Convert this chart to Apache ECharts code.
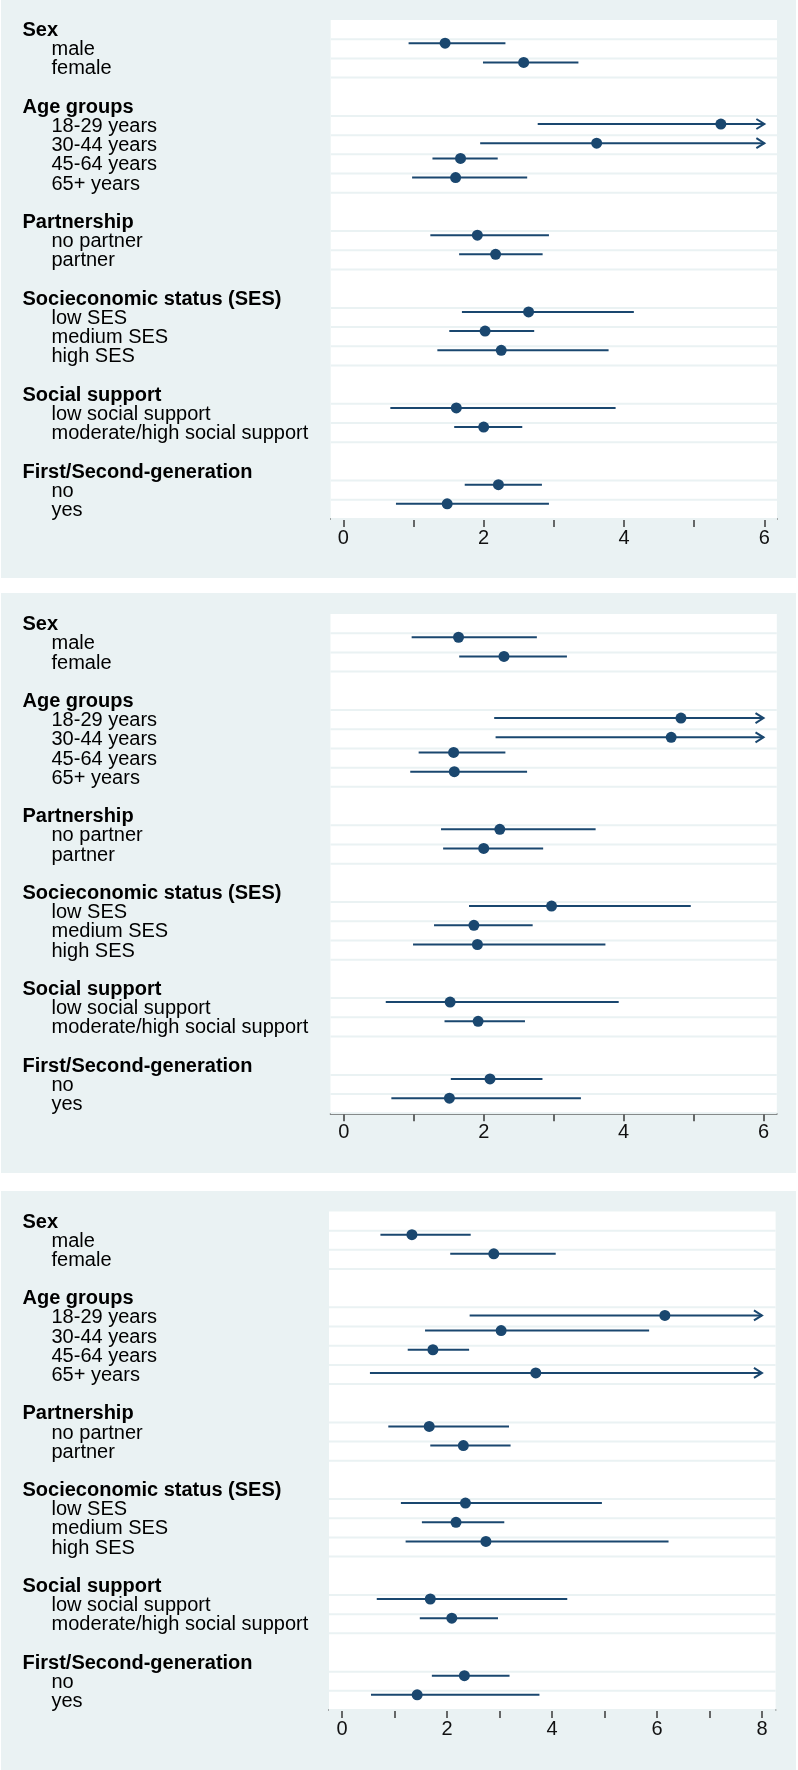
<!DOCTYPE html>
<html>
<head>
<meta charset="utf-8">
<script src="https://cdn.jsdelivr.net/npm/echarts@6/dist/echarts.min.js"></script>
<style>
  html, body { margin: 0; padding: 0; background: #ffffff; }
  #wrap { position: relative; width: 798px; height: 1770px; }
  .panel { position: absolute; left: 1px; width: 795px; background: #EAF2F3; }
  #chart { position: absolute; left: 0; top: 0; width: 798px; height: 1770px; }
</style>
</head>
<body>
<div id="wrap">
  <div class="panel" style="top:0px;height:578px;"></div>
  <div class="panel" style="top:593px;height:580px;"></div>
  <div class="panel" style="top:1191px;height:579px;"></div>
  <div id="chart"></div>
</div>
<script>
// ---------- data ----------
const groupHeaders = ['Sex', 'Age groups', 'Partnership', 'Socieconomic status (SES)', 'Social support', 'First/Second-generation'];
const groupItems = [
  ['male', 'female'],
  ['18-29 years', '30-44 years', '45-64 years', '65+ years'],
  ['no partner', 'partner'],
  ['low SES', 'medium SES', 'high SES'],
  ['low social support', 'moderate/high social support'],
  ['no', 'yes']
];

// null upper bound = interval truncated beyond the axis (drawn with an arrow)
const panel1Est = [1.45, 2.57, 5.38, 3.61, 1.67, 1.60, 1.91, 2.17, 2.64, 2.02, 2.25, 1.61, 2.00, 2.21, 1.48];
const panel1Lo  = [0.93, 1.99, 2.77, 1.95, 1.27, 0.98, 1.24, 1.65, 1.69, 1.51, 1.34, 0.67, 1.58, 1.73, 0.75];
const panel1Hi  = [2.31, 3.35, null, null, 2.20, 2.62, 2.93, 2.84, 4.14, 2.72, 3.78, 3.88, 2.55, 2.83, 2.93];

const panel2Est = [1.64, 2.29, 4.82, 4.68, 1.57, 1.58, 2.23, 2.00, 2.97, 1.86, 1.91, 1.52, 1.92, 2.09, 1.51];
const panel2Lo  = [0.97, 1.65, 2.15, 2.17, 1.07, 0.95, 1.39, 1.42, 1.79, 1.29, 0.99, 0.60, 1.44, 1.53, 0.68];
const panel2Hi  = [2.76, 3.19, null, null, 2.31, 2.62, 3.60, 2.85, 4.96, 2.70, 3.74, 3.93, 2.59, 2.84, 3.39];

const panel3Est = [1.33, 2.89, 6.15, 3.03, 1.73, 3.69, 1.66, 2.31, 2.35, 2.17, 2.74, 1.68, 2.09, 2.33, 1.43];
const panel3Lo  = [0.73, 2.06, 2.43, 1.58, 1.25, 0.53, 0.88, 1.68, 1.12, 1.52, 1.21, 0.66, 1.48, 1.71, 0.55];
const panel3Hi  = [2.45, 4.07, null, 5.85, 2.42, null, 3.18, 3.21, 4.95, 3.09, 6.22, 4.29, 2.97, 3.19, 3.76];

const tickLabels12 = [0, 2, 4, 6];
const tickMarks12  = [0, 1, 2, 3, 4, 5, 6];
const tickLabels3  = [0, 2, 4, 6, 8];
const tickMarks3   = [0, 1, 2, 3, 4, 5, 6, 7, 8];

// ---------- build row structure ----------
const rows = [];      // {label, header}
const itemRow = [];   // row index of each coefficient
groupHeaders.forEach((h, g) => {
  rows.push({ label: h, header: true });
  groupItems[g].forEach(it => { itemRow.push(rows.length); rows.push({ label: it, header: false }); });
  if (g < groupHeaders.length - 1) rows.push({ label: '', header: false });
});
const nRows = rows.length;
const boundaries = [];
itemRow.forEach(r => { [r, r + 1].forEach(b => { if (boundaries.indexOf(b) < 0) boundaries.push(b); }); });
const rowCats = rows.map((r, i) => (r.label ? (r.header ? '{h|' + r.label + '}' : '{i|' + r.label + '}') : '{e| }'));

const FONT = '"Liberation Sans", Arial, Helvetica, sans-serif';
const FS = 20;
const NAVY = '#1a476f';

const panels = [
  { est: panel1Est, lo: panel1Lo, hi: panel1Hi, min: -0.18, max: 6.18, labels: tickLabels12, marks: tickMarks12,
    grid: { left: 330.7, top: 20, width: 446.3, height: 499 } },
  { est: panel2Est, lo: panel2Lo, hi: panel2Hi, min: -0.19, max: 6.19, labels: tickLabels12, marks: tickMarks12,
    grid: { left: 330.5, top: 614, width: 446.3, height: 499.3 } },
  { est: panel3Est, lo: panel3Lo, hi: panel3Hi, min: -0.25, max: 8.26, labels: tickLabels3, marks: tickMarks3,
    grid: { left: 329, top: 1211.5, width: 446.6, height: 498.5 } }
];

const grids = [], xAxes = [], yAxes = [], series = [];

panels.forEach((p, k) => {
  grids.push(Object.assign({ show: true, backgroundColor: '#ffffff', borderWidth: 0, containLabel: false }, p.grid));
  xAxes.push({
    gridIndex: k, type: 'value', min: p.min, max: p.max, position: 'bottom',
    axisLine: { show: true, onZero: false, lineStyle: { color: '#3a3a3a', width: 1.5 } },
    axisTick: { show: true, length: 8, inside: false, customValues: p.marks, lineStyle: { color: '#3a3a3a', width: 1.5 } },
    axisLabel: { show: true, customValues: p.labels, margin: 9, color: '#111', fontSize: FS, fontFamily: FONT,
                 showMinLabel: true, showMaxLabel: true },
    splitLine: { show: false }
  });
  // value axis carrying the marks
  yAxes.push({
    gridIndex: k, type: 'value', min: 0, max: nRows, inverse: true, show: false,
    axisLine: { show: false }, axisTick: { show: false }, splitLine: { show: false }, axisLabel: { show: false }
  });
  // category axis carrying the row labels
  yAxes.push({
    gridIndex: k, type: 'category', data: rowCats, inverse: true, boundaryGap: true, position: 'left',
    axisLine: { show: false }, axisTick: { show: false }, splitLine: { show: false },
    axisLabel: {
      show: true, interval: 0, align: 'left', margin: p.grid.left - 22.5, padding: [2, 0, 0, 0],
      rich: {
        h: { fontFamily: FONT, fontSize: FS, fontWeight: 'bold', color: '#000' },
        i: { fontFamily: FONT, fontSize: FS, color: '#000', padding: [0, 0, 0, 29] },
        e: { fontFamily: FONT, fontSize: FS, color: '#000' }
      }
    }
  });

  const tickMax = p.marks[p.marks.length - 1];
  const ciData = [], ptData = [];
  p.est.forEach((e, j) => {
    const arrow = p.hi[j] === null || p.hi[j] > tickMax;
    const y = itemRow[j] + (arrow ? 0.42 : 0.21);
    ciData.push([p.lo[j], arrow ? tickMax : p.hi[j], y, arrow ? 1 : 0]);
    ptData.push([e, y]);
  });
  const yi = 2 * k;

  series.push({
    type: 'custom', xAxisIndex: k, yAxisIndex: yi, silent: true, z: 1,
    data: boundaries.map(b => [0, b]), encode: { x: 0, y: 1 },
    renderItem: (params, api) => {
      const cs = params.coordSys;
      const pt = api.coord([0, api.value(1)]);
      return { type: 'line', shape: { x1: cs.x, y1: pt[1], x2: cs.x + cs.width, y2: pt[1] },
               style: { stroke: '#EAF2F3', lineWidth: 2 } };
    }
  });
  series.push({
    type: 'custom', xAxisIndex: k, yAxisIndex: yi, silent: true, z: 2,
    data: ciData, encode: { x: [0, 1], y: 2 },
    renderItem: (params, api) => {
      const y = api.value(2);
      const a = api.coord([api.value(0), y]);
      const b = api.coord([api.value(1), y]);
      const ch = [{ type: 'line', shape: { x1: a[0], y1: a[1], x2: b[0], y2: b[1] }, style: { stroke: NAVY, lineWidth: 2 } }];
      if (api.value(3)) {
        ch.push({ type: 'polyline', shape: { points: [[b[0] - 8, b[1] - 5], [b[0], b[1]], [b[0] - 8, b[1] + 5]] },
                  style: { stroke: NAVY, lineWidth: 2, fill: null } });
      }
      return { type: 'group', children: ch };
    }
  });
  series.push({
    type: 'scatter', xAxisIndex: k, yAxisIndex: yi, silent: true, z: 3,
    symbol: 'circle', symbolSize: 11, itemStyle: { color: NAVY, opacity: 1 },
    data: ptData
  });
});

const chart = echarts.init(document.getElementById('chart'), null, { renderer: 'canvas' });
chart.setOption({
  animation: false,
  backgroundColor: 'transparent',
  textStyle: { fontFamily: FONT },
  grid: grids, xAxis: xAxes, yAxis: yAxes, series: series
});
</script>
</body>
</html>
